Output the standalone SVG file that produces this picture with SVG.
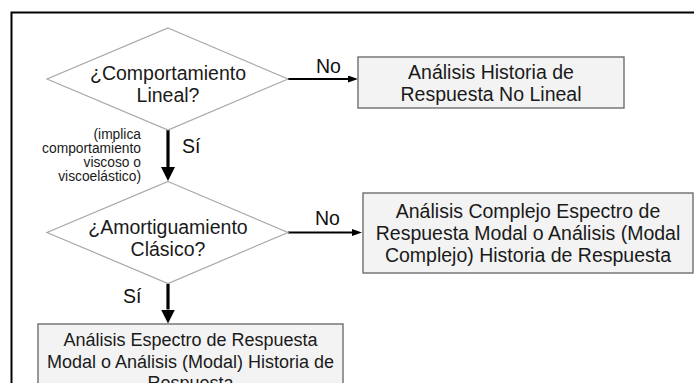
<svg xmlns="http://www.w3.org/2000/svg" width="694" height="383" viewBox="0 0 694 383">
<style>
.dia{fill:#ffffff;stroke:#a8a8a8;stroke-width:1.2}
.box{fill:#f3f3f3;stroke:#6e6e6e;stroke-width:1.4}
.t{font-family:"Liberation Sans",Arial,sans-serif;font-size:19.5px;fill:#1a1a1a;text-anchor:middle}
.t3{font-family:"Liberation Sans",Arial,sans-serif;font-size:18px;fill:#1a1a1a;text-anchor:middle}
.lbl{font-family:"Liberation Sans",Arial,sans-serif;font-size:19.5px;fill:#111}
.note{font-family:"Liberation Sans",Arial,sans-serif;font-size:13.8px;fill:#1a1a1a;text-anchor:end}
.h{fill:none;stroke:#000;stroke-width:2}
.v{fill:none;stroke:#000;stroke-width:3.2}
</style>
<defs>
<marker id="ah" viewBox="0 0 10 7" markerWidth="10" markerHeight="7" refX="0" refY="3.5" markerUnits="userSpaceOnUse" orient="auto"><path d="M0,0 L10,3.5 L0,7 z" fill="#000"/></marker>
<marker id="av" viewBox="0 0 14 14" markerWidth="14" markerHeight="14" refX="0" refY="7" markerUnits="userSpaceOnUse" orient="auto"><path d="M0,0 L14,7 L0,14 z" fill="#000"/></marker>
</defs>
<rect x="11.5" y="12.5" width="720" height="420" fill="#ffffff" stroke="#000" stroke-width="2"/>
<g id="connectors">
<path class="h" d="M288,79 L348,79" marker-end="url(#ah)"/>
<text class="lbl" x="316" y="73">No</text>
<path class="v" d="M168,130 L168,167" marker-end="url(#av)"/>
<text class="lbl" x="182" y="153">Sí</text>
<text class="note" x="141" y="138.5">(implica</text>
<text class="note" x="141" y="152.5">comportamiento</text>
<text class="note" x="141" y="166.5">viscoso o</text>
<text class="note" x="141" y="180.5">viscoelástico)</text>
<path class="h" d="M288,232.5 L352,232.5" marker-end="url(#ah)"/>
<text class="lbl" x="315" y="225">No</text>
<path class="v" d="M168,283.5 L168,309.5" marker-end="url(#av)"/>
<text class="lbl" x="123" y="303">Sí</text>
</g>
<g id="d1">
<polygon class="dia" points="168,28 288,79 168,130 47,79"/>
<text class="t" x="168" y="80">¿Comportamiento</text>
<text class="t" x="168" y="101.5">Lineal?</text>
</g>
<g id="b1">
<rect class="box" x="358" y="57" width="266" height="51"/>
<text class="t" x="491" y="79">Análisis Historia de</text>
<text class="t" x="491" y="100.5">Respuesta No Lineal</text>
</g>
<g id="d2">
<polygon class="dia" points="168,181.5 288,232.5 168,283.5 47,232.5"/>
<text class="t" x="168" y="234">¿Amortiguamiento</text>
<text class="t" x="168" y="255.5">Clásico?</text>
</g>
<g id="b2">
<rect class="box" x="363" y="193" width="330" height="80"/>
<text class="t" x="528" y="218">Análisis Complejo Espectro de</text>
<text class="t" x="528" y="240">Respuesta Modal o Análisis (Modal</text>
<text class="t" x="528" y="261.5">Complejo) Historia de Respuesta</text>
</g>
<g id="b3">
<rect class="box" x="38" y="324" width="305" height="80"/>
<text class="t3" x="190.5" y="346">Análisis Espectro de Respuesta</text>
<text class="t3" x="190.5" y="367.5">Modal o Análisis (Modal) Historia de</text>
<text class="t3" x="190.5" y="389">Respuesta</text>
</g>
</svg>
